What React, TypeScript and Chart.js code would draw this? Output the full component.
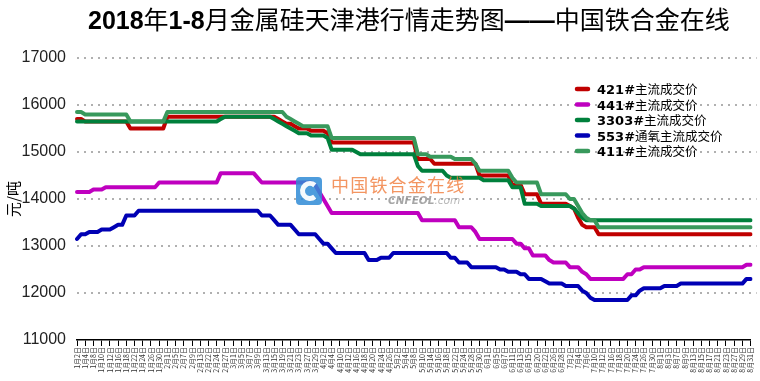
import React, { useEffect, useRef } from 'react';
import { Chart, registerables } from 'chart.js';

Chart.register(...registerables);

// ---------- data ----------
const tradingDays: [number, number[]][] = [
  [1, [2, 3, 4, 5, 8, 9, 10, 11, 12, 15, 16, 17, 18, 19, 22, 23, 24, 25, 26, 29, 30, 31]],
  [2, [1, 2, 5, 6, 7, 8, 9, 12, 13, 14, 22, 23, 24, 26, 27, 28]],
  [3, [1, 2, 5, 6, 7, 8, 9, 12, 13, 14, 15, 16, 19, 20, 21, 22, 23, 26, 27, 28, 29, 30]],
  [4, [2, 3, 4, 9, 10, 11, 12, 13, 16, 17, 18, 19, 20, 23, 24, 25, 26, 27]],
  [5, [2, 3, 4, 7, 8, 9, 10, 11, 14, 15, 16, 17, 18, 21, 22, 23, 24, 25, 28, 29, 30, 31]],
  [6, [1, 4, 5, 6, 7, 8, 11, 12, 13, 14, 15, 19, 20, 21, 22, 25, 26, 27, 28, 29]],
  [7, [2, 3, 4, 5, 6, 9, 10, 11, 12, 13, 16, 17, 18, 19, 20, 23, 24, 25, 26, 27, 30, 31]],
  [8, [1, 2, 3, 6, 7, 8, 9, 10, 13, 14, 15, 16, 17, 20, 21, 22, 23, 24, 27, 28, 29, 30, 31]],
];
const categories: string[] = tradingDays.flatMap(([m, ds]) => ds.map((d) => `${m}月${d}日`));

const yTicks = [11000, 12000, 13000, 14000, 15000, 16000, 17000];

const s421 = [
  15700, 15700,
  15650, 15650, 15650, 15650, 15650, 15650, 15650, 15650, 15650, 15650, 15650,
  15500, 15500, 15500, 15500, 15500, 15500, 15500, 15500, 15500,
  15750, 15750, 15750, 15750, 15750, 15750, 15750, 15750, 15750, 15750,
  15750, 15750, 15750, 15750, 15750, 15750, 15750, 15750, 15750, 15750,
  15750, 15750, 15750, 15750, 15750, 15750, 15750,
  15700, 15650, 15600, 15600, 15550,
  15500, 15500, 15500,
  15450, 15450, 15450, 15450,
  15400,
  15200, 15200, 15200, 15200, 15200, 15200, 15200, 15200, 15200, 15200,
  15200, 15200, 15200, 15200, 15200, 15200, 15200, 15200, 15200, 15200,
  15200,
  14850, 14850, 14850, 14850,
  14750, 14750, 14750, 14750, 14750, 14750, 14750, 14750, 14750, 14750, 14750,
  14500, 14500, 14500, 14500, 14500, 14500, 14500, 14500,
  14300, 14300, 14300,
  14100, 14100, 14100, 14100,
  13900, 13900, 13900, 13900, 13900, 13900, 13900,
  13850, 13800, 13600, 13450,
  13400, 13400, 13400,
  13250, 13250, 13250, 13250, 13250, 13250, 13250, 13250, 13250, 13250,
  13250, 13250, 13250, 13250, 13250, 13250, 13250, 13250, 13250, 13250,
  13250, 13250, 13250, 13250, 13250, 13250, 13250, 13250, 13250, 13250,
  13250, 13250, 13250, 13250, 13250, 13250, 13250, 13250,
];

const s441 = [
  14150, 14150, 14150, 14150,
  14200, 14200, 14200,
  14250, 14250, 14250, 14250, 14250, 14250, 14250, 14250, 14250, 14250,
  14250, 14250, 14250,
  14350, 14350, 14350, 14350, 14350, 14350, 14350, 14350, 14350, 14350,
  14350, 14350, 14350, 14350, 14350,
  14550, 14550, 14550, 14550, 14550, 14550, 14550, 14550, 14550,
  14450,
  14350, 14350, 14350, 14350, 14350, 14350, 14350, 14350, 14350, 14350,
  14350, 14350, 14350,
  14300, 14150, 14000, 13850,
  13700, 13700, 13700, 13700, 13700, 13700, 13700, 13700, 13700, 13700,
  13700, 13700, 13700, 13700, 13700, 13700, 13700, 13700, 13700, 13700,
  13700, 13700,
  13550, 13550, 13550, 13550, 13550, 13550, 13550, 13550, 13550,
  13400, 13400, 13400, 13400,
  13300,
  13150, 13150, 13150, 13150, 13150, 13150, 13150, 13150, 13150,
  13050, 13050,
  12950, 12950,
  12800, 12800, 12800, 12800,
  12700,
  12650, 12650, 12650, 12650,
  12550, 12550, 12550,
  12450, 12400,
  12300, 12300, 12300, 12300, 12300, 12300, 12300, 12300, 12300,
  12400, 12400,
  12500, 12500,
  12550, 12550, 12550, 12550, 12550, 12550, 12550, 12550, 12550, 12550,
  12550, 12550, 12550, 12550, 12550, 12550, 12550, 12550, 12550, 12550,
  12550, 12550, 12550, 12550, 12550,
  12600, 12600,
];

const s3303 = [
  15650, 15650, 15650, 15650, 15650, 15650, 15650, 15650, 15650, 15650,
  15650, 15650, 15650, 15650, 15650, 15650, 15650, 15650, 15650, 15650,
  15650, 15650, 15650, 15650, 15650, 15650, 15650, 15650, 15650, 15650,
  15650, 15650, 15650, 15650, 15650,
  15700,
  15750, 15750, 15750, 15750, 15750, 15750, 15750, 15750, 15750, 15750,
  15750, 15750,
  15700, 15650, 15600, 15550, 15500, 15450,
  15400, 15400, 15400,
  15350, 15350, 15350, 15350,
  15300,
  15050, 15050, 15050, 15050, 15050, 15050,
  15000,
  14950, 14950, 14950, 14950, 14950, 14950, 14950, 14950, 14950, 14950,
  14950, 14950, 14950, 14950,
  14700,
  14600, 14600, 14600, 14600, 14600, 14600,
  14500,
  14450, 14450, 14450, 14450, 14450, 14450, 14450, 14450,
  14400, 14400, 14400, 14400, 14400, 14400, 14400,
  14250, 14250, 14250,
  13900, 13900, 13900, 13900,
  13850, 13850, 13850, 13850, 13850, 13850, 13850, 13850,
  13800, 13700, 13600,
  13550, 13550, 13550, 13550, 13550, 13550, 13550, 13550, 13550, 13550,
  13550, 13550, 13550, 13550, 13550, 13550, 13550, 13550, 13550, 13550,
  13550, 13550, 13550, 13550, 13550, 13550, 13550, 13550, 13550, 13550,
  13550, 13550, 13550, 13550, 13550, 13550, 13550, 13550, 13550, 13550,
  13550,
];

const s553 = [
  13150,
  13250, 13250,
  13300, 13300, 13300,
  13350, 13350, 13350,
  13400,
  13450, 13450,
  13650, 13650, 13650,
  13750, 13750, 13750, 13750, 13750, 13750, 13750, 13750, 13750, 13750,
  13750, 13750, 13750, 13750, 13750, 13750, 13750, 13750, 13750, 13750,
  13750, 13750, 13750, 13750, 13750, 13750, 13750, 13750, 13750, 13750,
  13650, 13650, 13650,
  13550,
  13450, 13450, 13450, 13450,
  13350,
  13250, 13250, 13250, 13250, 13250,
  13150,
  13050, 13050,
  12950,
  12850, 12850, 12850, 12850, 12850, 12850, 12850, 12850,
  12700, 12700, 12700,
  12750, 12750, 12750,
  12850, 12850, 12850, 12850, 12850, 12850, 12850, 12850, 12850, 12850,
  12850, 12850, 12850, 12850,
  12750, 12750,
  12650, 12650, 12650,
  12550, 12550, 12550, 12550, 12550, 12550, 12550,
  12500, 12500,
  12450, 12450, 12450,
  12400, 12400,
  12300, 12300, 12300, 12300,
  12250,
  12200, 12200, 12200, 12200,
  12150, 12150, 12150, 12150,
  12050, 12000, 11900,
  11850, 11850, 11850, 11850, 11850, 11850, 11850, 11850, 11850,
  11950, 11950,
  12050,
  12100, 12100, 12100, 12100, 12100,
  12150, 12150, 12150, 12150,
  12200, 12200, 12200, 12200, 12200, 12200, 12200, 12200, 12200, 12200,
  12200, 12200, 12200, 12200, 12200, 12200,
  12300, 12300,
];

const s411 = [
  15850, 15850,
  15800, 15800, 15800, 15800, 15800, 15800, 15800, 15800, 15800, 15800, 15800,
  15650, 15650, 15650, 15650, 15650, 15650, 15650, 15650, 15650,
  15850, 15850, 15850, 15850, 15850, 15850, 15850, 15850, 15850, 15850,
  15850, 15850, 15850, 15850, 15850, 15850, 15850, 15850, 15850, 15850,
  15850, 15850, 15850, 15850, 15850, 15850, 15850, 15850, 15850,
  15750, 15700, 15650, 15600,
  15550, 15550, 15550, 15550, 15550, 15550, 15550,
  15300, 15300, 15300, 15300, 15300, 15300, 15300, 15300, 15300, 15300,
  15300, 15300, 15300, 15300, 15300, 15300, 15300, 15300, 15300, 15300,
  15300,
  14950, 14950, 14950,
  14900, 14900, 14900, 14900, 14900, 14900,
  14850, 14850, 14850, 14850, 14850,
  14750,
  14600, 14600, 14600, 14600, 14600, 14600, 14600, 14600,
  14450,
  14350, 14350, 14350, 14350, 14350, 14350,
  14100, 14100, 14100, 14100, 14100, 14100, 14100,
  14000, 14000,
  13850, 13700, 13600,
  13550, 13550,
  13400, 13400, 13400, 13400, 13400, 13400, 13400, 13400, 13400, 13400,
  13400, 13400, 13400, 13400, 13400, 13400, 13400, 13400, 13400, 13400,
  13400, 13400, 13400, 13400, 13400, 13400, 13400, 13400, 13400, 13400,
  13400, 13400, 13400, 13400, 13400, 13400, 13400, 13400,
];

const seriesCodes = ['421#', '441#', '3303#', '553#', '411#'];
const seriesNames = ['主流成交价', '主流成交价', '主流成交价', '通氧主流成交价', '主流成交价'];
const seriesColors = ['#c00000', '#bf00bf', '#00803c', '#0000b4', '#38995c'];
const seriesValues = [s421, s441, s3303, s553, s411];
const drawOrder = [5, 4, 2, 3, 1];

const titleRuns: [string, boolean][] = [
  ['2018', true],
  ['年', false],
  ['1-8', true],
  ['月金属硅天津港行情走势图', false],
  ['——', true],
  ['中国铁合金在线', false],
];
const yAxisTitle = '元/吨';
const watermarkText = '中国铁合金在线';
const watermarkSub = 'CNFEOL';
const watermarkSub2 = '.com';

const CJK = "'Noto Sans CJK SC', sans-serif";

const decorPlugin = {
  id: 'decor',
  beforeDatasetsDraw(chart: any) {
    // dotted horizontal grid lines
    const ctx: CanvasRenderingContext2D = chart.ctx;
    const ys = chart.scales.y;
    const { left, right } = chart.chartArea;
    ctx.save();
    ctx.strokeStyle = '#b0b0b0';
    ctx.lineWidth = 2;
    ctx.setLineDash([2, 5]);
    yTicks.forEach((v) => {
      if (v === yTicks[0]) return;
      const y = Math.round(ys.getPixelForValue(v));
      ctx.beginPath();
      ctx.moveTo(left, y);
      ctx.lineTo(right + 6, y);
      ctx.stroke();
    });
    ctx.restore();
  },
  afterDatasetsDraw(chart: any) {
    const ctx: CanvasRenderingContext2D = chart.ctx;
    ctx.save();
    // logo
    ctx.globalAlpha = 0.85;
    ctx.fillStyle = '#2f8bd6';
    const lx = 296, ly = 177, lw = 26, lh = 28, r = 4;
    ctx.beginPath();
    ctx.moveTo(lx + r, ly);
    ctx.lineTo(lx + lw - r, ly);
    ctx.quadraticCurveTo(lx + lw, ly, lx + lw, ly + r);
    ctx.lineTo(lx + lw, ly + lh - r);
    ctx.quadraticCurveTo(lx + lw, ly + lh, lx + lw - r, ly + lh);
    ctx.lineTo(lx + r, ly + lh);
    ctx.quadraticCurveTo(lx, ly + lh, lx, ly + lh - r);
    ctx.lineTo(lx, ly + r);
    ctx.quadraticCurveTo(lx, ly, lx + r, ly);
    ctx.closePath();
    ctx.fill();
    ctx.globalAlpha = 0.95;
    ctx.strokeStyle = '#ffffff';
    ctx.lineWidth = 5;
    ctx.beginPath();
    ctx.arc(lx + lw / 2 + 1, ly + lh / 2, 7.5, Math.PI * 0.28, Math.PI * 1.72);
    ctx.stroke();
    // text
    ctx.globalAlpha = 0.8;
    ctx.fillStyle = '#f07a3a';
    ctx.font = `18px ${CJK}`;
    ctx.textBaseline = 'alphabetic';
    ctx.textAlign = 'left';
    const chars = Array.from(watermarkText);
    chars.forEach((c, i) => ctx.fillText(c, 331 + i * 19.2, 192));
    ctx.globalAlpha = 0.75;
    ctx.fillStyle = '#8a8a8a';
    ctx.font = "italic bold 10.5px 'DejaVu Sans', sans-serif";
    ctx.fillText(watermarkSub, 388, 204);
    const w = ctx.measureText(watermarkSub).width;
    ctx.font = "italic 10.5px 'DejaVu Sans', sans-serif";
    ctx.fillStyle = '#a0a0a0';
    ctx.fillText(watermarkSub2, 388 + w, 204);
    ctx.restore();
  },
  afterDraw(chart: any) {
    const ctx: CanvasRenderingContext2D = chart.ctx;
    ctx.save();
    ctx.fillStyle = '#000';
    ctx.textBaseline = 'alphabetic';
    ctx.textAlign = 'left';
    // title
    let x = 88;
    for (const [t, bold] of titleRuns) {
      ctx.font = bold
        ? "bold 25px 'Liberation Sans Narrow', 'Liberation Sans', sans-serif"
        : `25px ${CJK}`;
      ctx.fillText(t, x, 29);
      x += ctx.measureText(t).width;
    }
    // legend
    const rows = [89, 104.5, 120, 135.5, 151];
    seriesCodes.forEach((code, i) => {
      const y = rows[i];
      ctx.strokeStyle = seriesColors[i];
      ctx.lineWidth = 4.5;
      ctx.lineCap = 'round';
      ctx.beginPath();
      ctx.moveTo(577, y);
      ctx.lineTo(588, y);
      ctx.stroke();
      ctx.fillStyle = '#000';
      ctx.font = "bold 13px 'DejaVu Sans', sans-serif";
      ctx.fillText(code, 597, y + 5);
      const cw = ctx.measureText(code).width;
      ctx.font = `12.5px ${CJK}`;
      ctx.fillText(seriesNames[i], 597 + cw, y + 5);
    });
    ctx.restore();
  },
};

export default function App() {
  const ref = useRef<HTMLCanvasElement | null>(null);
  useEffect(() => {
    document.body.style.margin = '0';
    if (!ref.current) return;
    const chart = new Chart(ref.current, {
      type: 'line',
      data: {
        labels: categories,
        datasets: seriesValues.map((vals, i) => ({
          label: seriesCodes[i] + seriesNames[i],
          data: vals,
          borderColor: seriesColors[i],
          backgroundColor: seriesColors[i],
          borderWidth: 4,
          pointRadius: 0,
          tension: 0,
          fill: false,
          borderJoinStyle: 'round' as const,
          borderCapStyle: 'round' as const,
          order: drawOrder[i],
        })),
      },
      options: {
        animation: false,
        responsive: false,
        devicePixelRatio: 1,
        events: [],
        layout: { padding: { top: 58, right: 8, left: 0, bottom: 0 } },
        plugins: {
          legend: { display: false },
          title: { display: false },
          tooltip: { enabled: false },
        },
        scales: {
          x: {
            type: 'category',
            offset: false,
            afterFit: (s: any) => {
              s.height = 41;
            },
            grid: {
              display: true,
              drawOnChartArea: false,
              drawTicks: true,
              tickLength: 6,
              color: '#000',
              lineWidth: 1,
            },
            border: { display: true, color: '#000', width: 1.5 },
            ticks: {
              autoSkip: false,
              maxRotation: 90,
              minRotation: 90,
              padding: 1,
              color: '#333',
              font: { size: 7, family: CJK },
              callback: (_v: any, idx: number) => (idx % 2 === 0 ? categories[idx] : null),
            },
          },
          y: {
            min: yTicks[0],
            max: yTicks[yTicks.length - 1],
            afterFit: (s: any) => {
              s.width = 77;
            },
            afterBuildTicks: (s: any) => {
              s.ticks = yTicks.map((v) => ({ value: v }));
            },
            grid: { display: false, drawTicks: false },
            border: { display: false },
            ticks: {
              padding: 11,
              color: '#222',
              font: { size: 16, family: "'Liberation Sans', sans-serif" },
              callback: (v: any) => String(v),
            },
            title: {
              display: true,
              text: yAxisTitle,
              color: '#000',
              font: { size: 15, family: CJK },
            },
          },
        },
      },
      plugins: [decorPlugin],
    } as any);
    return () => chart.destroy();
  }, []);
  return (
    <div style={{ width: 760, height: 381 }}>
      <canvas ref={ref} width={760} height={381} style={{ display: 'block' }} />
    </div>
  );
}
